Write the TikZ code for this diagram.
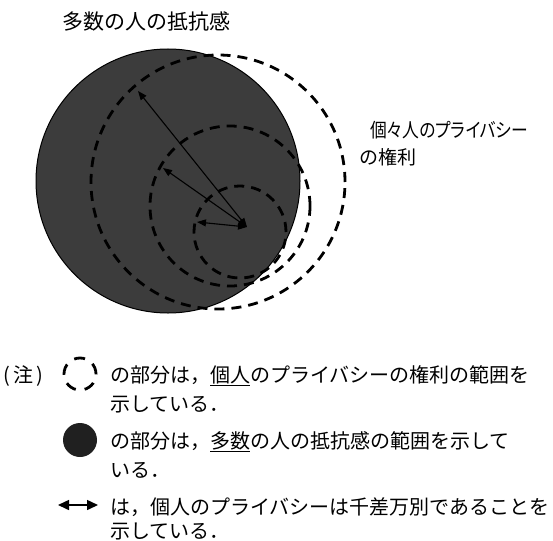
\documentclass[tikz,border=0pt]{standalone}
\usepackage{fontspec}
\setmainfont{Noto Sans CJK JP}
\usetikzlibrary{arrows.meta}
\definecolor{diskgray}{RGB}{60,60,60}
\definecolor{icongray}{RGB}{32,32,32}
\tikzset{
  dcirc/.style={draw=black, line width=2.8pt, dash pattern=on 10pt off 7pt},
  arr/.style={line width=1.1pt, {Triangle[length=9pt,width=7pt]}-{Triangle[length=9pt,width=7pt]}},
  txt/.style={anchor=west, inner sep=0pt, font=\fontsize{20pt}{24pt}\selectfont},
  bigtxt/.style={anchor=west, inner sep=0pt, font=\fontsize{21pt}{25pt}\selectfont},
  labtxt/.style={anchor=west, inner sep=0pt, font=\fontsize{19.5pt}{23pt}\selectfont\addfontfeatures{RawFeature=+palt,FakeStretch=0.86}},
  labtxtb/.style={anchor=west, inner sep=0pt, font=\fontsize{19pt}{23pt}\selectfont},
}
\begin{document}
\begin{tikzpicture}[x=1pt,y=-1pt]
\useasboundingbox (0,0) rectangle (553,540);
\fill[white] (0,0) rectangle (553,540);

% main filled circle
\path[fill=diskgray, draw=black, line width=1pt] (168,181) circle[radius=132pt];

% dashed circles
\draw[dcirc] (218,182) circle[radius=127pt];
\draw[dcirc] (230,206) circle[radius=80pt];
\draw[dcirc] (240,232) circle[radius=46pt];

% arrows
\coordinate (C) at (247,227);
\coordinate (A1) at (138,91);
\coordinate (A2) at (163,168);
\coordinate (A3) at (197,222);
\draw[arr] (C) -- (A1);
\draw[arr] (C) -- (A2);
\draw[arr] (C) -- (A3);

% labels
\node[bigtxt] (title) at (62,21) {多数の人の抵抗感};
\node[labtxt] (lab1) at (370,130) {個々人のプライバシー};
\node[labtxtb] (lab2) at (359,157) {の権利};

% legend
\node[txt] (note) at (3,376) {(\,注\,)};
\draw[dcirc, line width=2.8pt, dash pattern=on 11pt off 9pt] (80,374) circle[radius=16pt];
\node[txt] (l1) at (110,376) {の部分は，\underline{個人}のプライバシーの権利の範囲を};
\node[txt] (l2) at (110,404) {示している．};

\fill[icongray] (80,440) circle[radius=17pt];
\node[txt] (l3) at (110,442) {の部分は，\underline{多数}の人の抵抗感の範囲を示して};
\node[txt] (l4) at (110,470) {いる．};

\coordinate (B1) at (58,505);
\coordinate (B2) at (98,505);
\draw[line width=1.5pt, {Triangle[length=11pt,width=10pt]}-{Triangle[length=11pt,width=10pt]}] (B1) -- (B2);
\node[txt] (l5) at (110,507) {は，個人のプライバシーは千差万別であることを};
\node[txt] (l6) at (110,531) {示している．};
\end{tikzpicture}
\end{document}
